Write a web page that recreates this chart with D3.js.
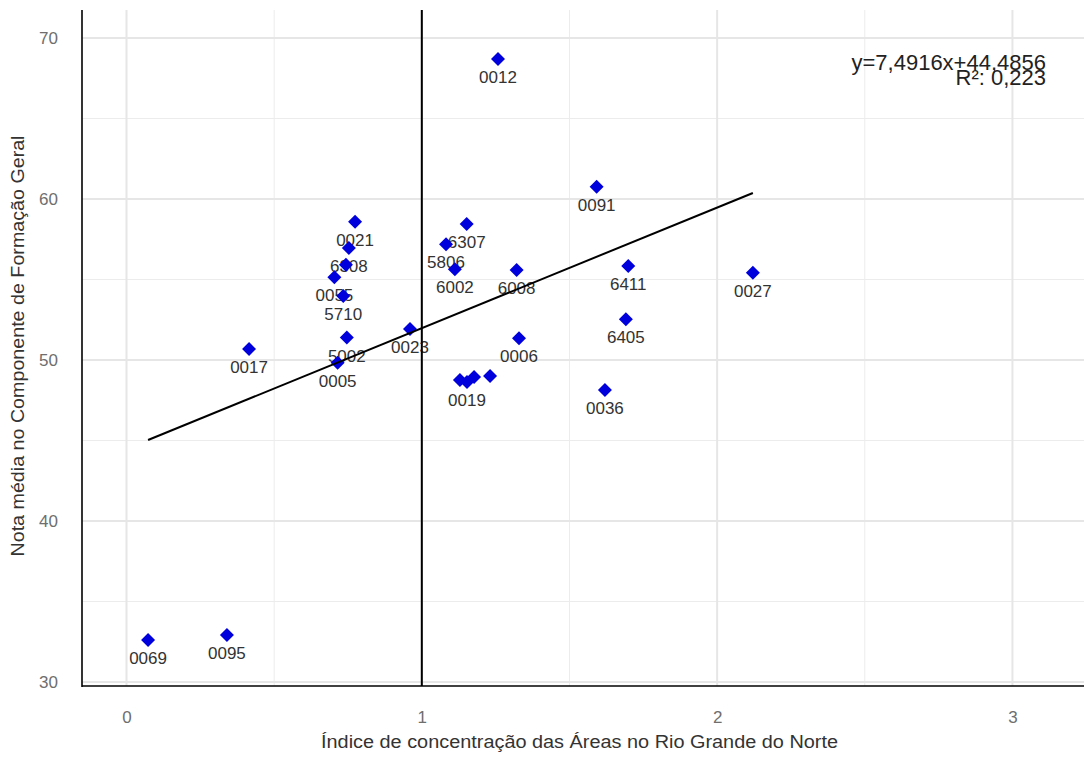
<!DOCTYPE html>
<html><head><meta charset="utf-8">
<script src="https://cdn.jsdelivr.net/npm/d3@7"></script>
<style>body{margin:0;background:#fff;} svg{display:block;font-family:Arial,"Liberation Sans",sans-serif;}</style>
</head><body>
<script>
const codes = ["0069","0095","0017","0005","5002","5710","0055","","6308","0021","0023","5806","6307","6002","6008","0006","","0019","","","0012","0091","6411","0027","6405","0036"];
const xVals = [0.073,0.340,0.415,0.715,0.746,0.734,0.704,0.743,0.753,0.774,0.960,1.082,1.152,1.112,1.321,1.329,1.129,1.153,1.177,1.231,1.258,1.592,1.699,2.121,1.691,1.620];
const yVals = [32.61,32.92,50.68,49.83,51.39,53.98,55.14,55.92,56.96,58.59,51.93,57.19,58.45,55.63,55.59,51.35,48.76,48.63,48.94,49.01,68.70,60.76,55.84,55.42,52.53,48.14];
const xTicks = [0,1,2,3];
const yTicks = [30,40,50,60,70];
const xMinor = [0.5,1.5,2.5];
const yMinor = [35,45,55,65];
const slope = 7.4916, intercept = 44.4856, r2 = "0,223";
const refX = 1;
const xTitle = "Índice de concentração das Áreas no Rio Grande do Norte";
const yTitle = "Nota média no Componente de Formação Geral";

const W = 1084, H = 758;
const L = 82, R = 1084, T = 10, B = 686;
const svg = d3.select("body").append("svg").attr("width", W).attr("height", H);
const x = d3.scaleLinear().domain([-0.1507, 3.2423]).range([L, R]);
const y = d3.scaleLinear().domain([29.752, 71.739]).range([B, T]);

const g = svg.append("g");
// grid
g.selectAll(".gxm").data(xMinor).join("line").attr("x1", d=>x(d)).attr("x2", d=>x(d)).attr("y1", T).attr("y2", B).attr("stroke","#ececec").attr("stroke-width",1);
g.selectAll(".gym").data(yMinor).join("line").attr("y1", d=>y(d)).attr("y2", d=>y(d)).attr("x1", L).attr("x2", R).attr("stroke","#ececec").attr("stroke-width",1);
g.selectAll(".gx").data(xTicks).join("line").attr("x1", d=>x(d)).attr("x2", d=>x(d)).attr("y1", T).attr("y2", B).attr("stroke","#e6e6e6").attr("stroke-width",2);
g.selectAll(".gy").data(yTicks).join("line").attr("y1", d=>y(d)).attr("y2", d=>y(d)).attr("x1", L).attr("x2", R).attr("stroke","#e6e6e6").attr("stroke-width",2);

// axes
const xAxis = d3.axisBottom(x).tickValues(xTicks).tickSize(0).tickPadding(25).tickFormat(d3.format("d"));
const yAxis = d3.axisLeft(y).tickValues(yTicks).tickSize(0).tickPadding(24).tickFormat(d3.format("d"));
const gx = svg.append("g").attr("transform",`translate(0,${B})`).call(xAxis);
const gy = svg.append("g").attr("transform",`translate(${L},0)`).call(yAxis);
[gx, gy].forEach(a => {
  a.select(".domain").remove();
  a.selectAll("text").attr("fill","#6e6e6e").attr("font-size",17).attr("font-family","Arial, 'Liberation Sans', sans-serif");
});

// labels
const pts = codes.map((c,i)=>({c, x:xVals[i], y:yVals[i]}));
svg.append("g").selectAll("text").data(pts.filter(p=>p.c)).join("text")
  .attr("x", d=>x(d.x)).attr("y", d=>y(d.y)+24).attr("text-anchor","middle")
  .attr("font-size",17).attr("fill","#333").text(d=>d.c);

// points (diamonds)
const r = 7;
const diamond = `M0,${-r}L${r},0L0,${r}L${-r},0Z`;
svg.append("g").selectAll("path").data(pts).join("path")
  .attr("d", diamond)
  .attr("transform", d=>`translate(${x(d.x)},${y(d.y)})`)
  .attr("fill","#0000dd");

// regression line
const xmin = d3.min(xVals), xmax = d3.max(xVals);
svg.append("line").attr("x1", x(xmin)).attr("y1", y(slope*xmin+intercept))
  .attr("x2", x(xmax)).attr("y2", y(slope*xmax+intercept)).attr("stroke","#000").attr("stroke-width",2);

// reference line
svg.append("line").attr("x1", x(refX)).attr("x2", x(refX)).attr("y1", T).attr("y2", B).attr("stroke","#000").attr("stroke-width",2);

// axis lines
svg.append("line").attr("x1", L).attr("x2", L).attr("y1", T).attr("y2", B+1).attr("stroke","#000").attr("stroke-width",1.6);
svg.append("line").attr("x1", L).attr("x2", R).attr("y1", B).attr("y2", B).attr("stroke","#000").attr("stroke-width",1.6);

// annotation
const fmt = v => String(v).replace(".", ",");
svg.append("text").attr("x",1046).attr("y",70).attr("text-anchor","end").attr("font-size",22).attr("fill","#222")
  .text(`y=${fmt(slope)}x+${fmt(intercept)}`);
svg.append("text").attr("x",1046).attr("y",85).attr("text-anchor","end").attr("font-size",22).attr("fill","#222")
  .text(`R²: ${r2}`);

// titles
svg.append("text").attr("x", 579.5).attr("y", 748).attr("text-anchor","middle").attr("font-size",17.5)
  .attr("textLength",517).attr("lengthAdjust","spacingAndGlyphs").attr("fill","#333").text(xTitle);
svg.append("text").attr("transform",`translate(24,${(T+B)/2 - 2}) rotate(-90)`).attr("text-anchor","middle").attr("font-size",17.5)
  .attr("textLength",421).attr("lengthAdjust","spacingAndGlyphs").attr("fill","#333").text(yTitle);
</script>
</body></html>
